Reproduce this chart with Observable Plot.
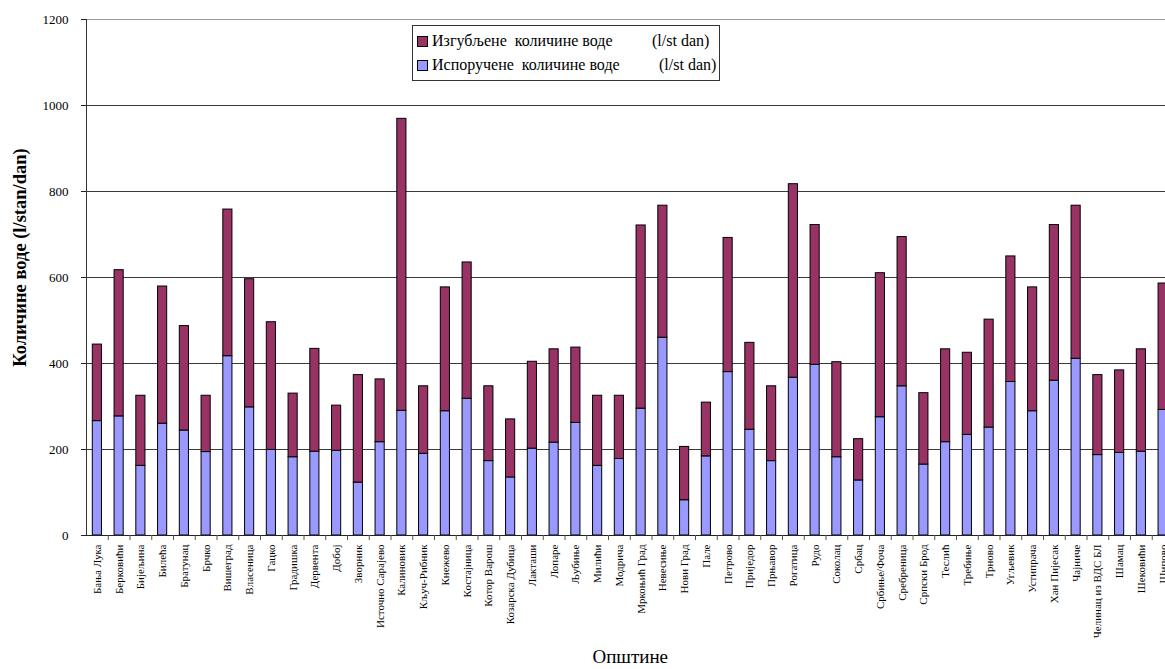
<!DOCTYPE html>
<html>
<head>
<meta charset="utf-8">
<script src="https://cdn.jsdelivr.net/npm/d3@7"></script>
<script src="https://cdn.jsdelivr.net/npm/@observablehq/plot@0.6"></script>
<style>
  html, body { margin: 0; padding: 0; background: #fff; overflow: hidden; width: 1165px; height: 669px; }
  #wrap { position: relative; width: 1165px; height: 669px; overflow: hidden; }
  #chart { position: absolute; left: 0; top: 0; width: 1176px; }
  #chart svg { max-width: none !important; width: 1176px !important; height: 669px !important; }
  #chart svg text { font-family: "Liberation Serif", "Times New Roman", serif !important; }
  #legend {
    position: absolute; left: 412px; top: 25px; width: 306px; height: 54px;
    border: 1px solid #333; background: #fff;
    font-family: "Liberation Serif", "Times New Roman", serif; font-size: 16px; color: #000;
  }
  .li { position: absolute; left: 0; width: 306px; height: 18px; line-height: 18px; white-space: pre; }
  .sw { position: absolute; left: 4px; top: 4px; width: 9px; height: 9px; border: 1px solid #000; }
  .lt { position: absolute; left: 19px; top: 0; }
  .lu { position: absolute; top: 0; }
</style>
</head>
<body>
<div id="wrap">
  <div id="chart"></div>
  <div id="legend">
    <div class="li" style="top:6px"><span class="sw" style="background:#993366"></span><span class="lt">Изгубљене  количине воде</span><span class="lu" style="left:239px">(l/st dan)</span></div>
    <div class="li" style="top:30px"><span class="sw" style="background:#9999FF"></span><span class="lt">Испоручене  количине воде</span><span class="lu" style="left:246px">(l/st dan)</span></div>
  </div>
</div>
<script>
const categories = ["Бања Лука","Берковићи","Бијељина","Билећа","Братунац","Брчко","Вишеград","Власеница","Гацко","Градишка","Дервента","Добој","Зворник","Источно Сарајево","Калиновик","Кључ-Рибник","Кнежево","Костајница","Котор Варош","Козарска Дубица","Лакташи","Лопаре","Љубиње","Милићи","Модрича","Мркоњић Град","Невесиње","Нови Град","Пале","Петрово","Приједор","Прњавор","Рогатица","Рудо","Соколац","Србац","Србиње/Фоча","Сребреница","Српски Брод","Теслић","Требиње","Трново","Угљевик","Устипрача","Хан Пијесак","Чајниче","Челинац из ВДС БЛ","Шамац","Шековићи","Шипово"];
const delivered = [266,277,162,260,244,194,417,298,199,182,195,197,123,217,290,190,289,318,173,135,202,216,262,162,178,295,460,82,184,380,246,173,367,397,182,128,275,347,165,217,234,251,357,289,360,411,187,192,195,292];
const lost = [178,340,163,319,243,131,341,298,297,148,239,105,250,146,679,157,288,317,174,135,202,217,175,163,147,426,307,124,125,312,202,174,450,325,221,96,335,347,166,216,191,251,292,288,362,356,186,192,238,294];
const seriesNames = ["Испоручене количине воде", "Изгубљене количине воде"];
const seriesColors = ["#9999FF", "#993366"];
const yTicks = [0,200,400,600,800,1000,1200];
const gridTicks = [200,400,600,800,1000];
const topTick = [1200];
const yTitle = "Количине воде (l/stan/dan)";
const xTitle = "Општине";

const rows = [];
categories.forEach((c, i) => {
  rows.push({cat: c, series: seriesNames[0], value: delivered[i]});
  rows.push({cat: c, series: seriesNames[1], value: lost[i]});
});

const W = 1176, H = 669, ML = 86, MR = 2.5, MT = 19, MB = 134;
const step = (W - ML - MR) / categories.length;
const font = "'Liberation Serif', 'Times New Roman', serif";

const chart = Plot.plot({
  width: W, height: H,
  marginLeft: ML, marginRight: MR, marginTop: MT, marginBottom: MB,
  style: {fontFamily: font, background: "transparent", color: "#000", maxWidth: "none"},
  x: {type: "band", domain: categories, paddingInner: 0.58, paddingOuter: 0.29, label: null},
  y: {domain: [0, 1200], label: null},
  color: {domain: seriesNames, range: seriesColors},
  marks: [
    Plot.ruleY(gridTicks, {stroke: "#3a3a3a", strokeWidth: 1}),
    Plot.ruleY(topTick, {stroke: "#999", strokeWidth: 1.2}),
    Plot.barY(rows, {x: "cat", y: "value", fill: "series", stroke: "#000", strokeWidth: 1}),
    Plot.frame({anchor: "left", stroke: "#333"}),
    Plot.ruleY([0], {stroke: "#222"}),
    Plot.axisY({ticks: yTicks, tickSize: 5, tickPadding: 13, fontSize: 13, stroke: "#222", label: null, tickFormat: d => String(d)}),
    Plot.axisX({tickSize: 5, tickFormat: () => "", dx: step / 2, stroke: "#555", label: null}),
    Plot.axisX({tickRotate: -90, tickSize: 0, tickPadding: 9, fontSize: 11, label: null}),
    Plot.text([yTitle], {frameAnchor: "left", textAnchor: "middle", rotate: -90, dx: -66, dy: -20, fontSize: 18.5, fontWeight: "bold"}),
    Plot.text([xTitle], {frameAnchor: "bottom", textAnchor: "middle", dy: 127, fontSize: 19})
  ]
});
document.getElementById("chart").appendChild(chart);
</script>
</body>
</html>
